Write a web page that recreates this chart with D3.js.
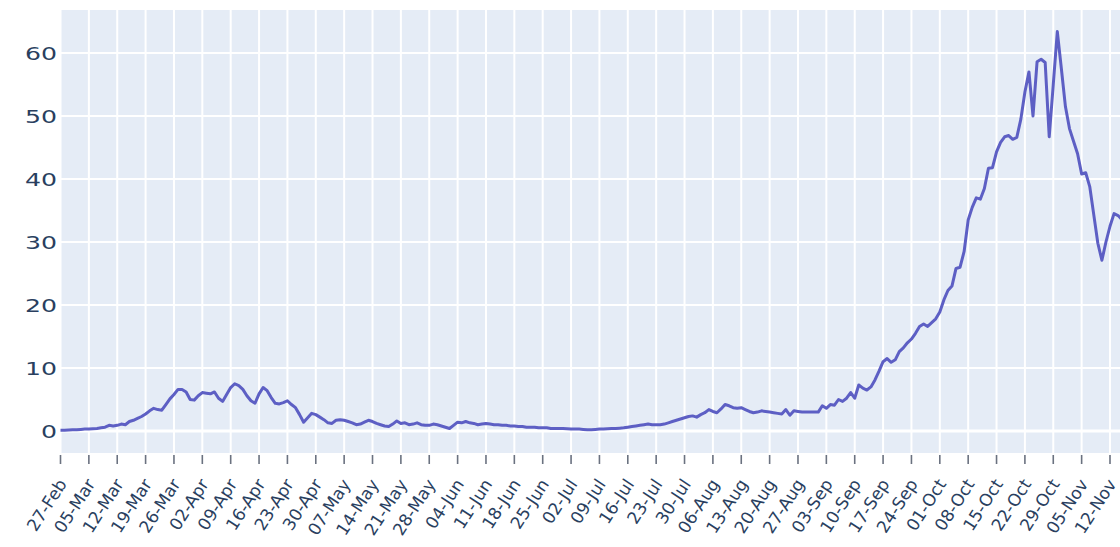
<!DOCTYPE html>
<html>
<head>
<meta charset="utf-8">
<script src="https://cdn.jsdelivr.net/npm/d3@7"></script>
<style>
  html, body { margin: 0; padding: 0; background: #ffffff; }
  svg { display: block; }
  text { font-family: "DejaVu Sans", Verdana, sans-serif; fill: #2a3f5f; }
</style>
</head>
<body>
<svg id="chart" width="1120" height="547"></svg>
<script>
// daily series, first value is 27-Feb-2020
var startDay = "2020-02-27";
var firstTick = "2020-02-27";
var lastTick = "2020-11-12";
var dailyValues = [
  0.1, 0.1, 0.15, 0.2, 0.2, 0.25, 0.3, 0.3, 0.35, 0.4,
  0.5, 0.6, 0.9, 0.8, 0.9, 1.1, 1.0, 1.5, 1.7, 2.0,
  2.3, 2.7, 3.2, 3.6, 3.4, 3.3, 4.2, 5.1, 5.8, 6.6,
  6.6, 6.2, 5.0, 4.9, 5.6, 6.1, 6.0, 5.9, 6.2, 5.2,
  4.7, 5.8, 6.9, 7.5, 7.2, 6.6, 5.6, 4.8, 4.4, 5.9,
  6.9, 6.4, 5.3, 4.4, 4.3, 4.5, 4.8, 4.2, 3.7, 2.6,
  1.4, 2.1, 2.8, 2.6, 2.2, 1.8, 1.3, 1.2, 1.7, 1.8,
  1.7, 1.5, 1.3, 1.0, 1.1, 1.4, 1.7, 1.5, 1.2, 1.0,
  0.8, 0.7, 1.1, 1.6, 1.2, 1.3, 1.0, 1.1, 1.3, 1.0,
  0.9, 0.9, 1.1, 1.0, 0.8, 0.6, 0.4, 0.9, 1.4, 1.3,
  1.5, 1.3, 1.2, 1.0, 1.1, 1.2, 1.1, 1.0, 1.0, 0.9,
  0.9, 0.8, 0.8, 0.7, 0.7, 0.6, 0.6, 0.6, 0.5, 0.5,
  0.5, 0.4, 0.4, 0.4, 0.4, 0.35, 0.3, 0.3, 0.3, 0.25,
  0.2, 0.2, 0.25, 0.3, 0.3, 0.35, 0.4, 0.4, 0.45, 0.5,
  0.6, 0.7, 0.8, 0.9, 1.0, 1.1, 1.0, 1.0, 1.0, 1.1,
  1.3, 1.5, 1.7, 1.9, 2.1, 2.3, 2.4, 2.2, 2.6, 2.9,
  3.4, 3.1, 2.9, 3.5, 4.2, 4.0, 3.7, 3.6, 3.7, 3.4,
  3.1, 2.9, 3.0, 3.2, 3.1, 3.0, 2.9, 2.8, 2.7, 3.4,
  2.5, 3.2, 3.1, 3.0, 3.0, 3.0, 3.0, 3.0, 4.0, 3.6,
  4.2, 4.1, 5.0, 4.7, 5.2, 6.1, 5.2, 7.3, 6.8, 6.5,
  7.0, 8.1, 9.5, 11.0, 11.5, 10.9, 11.3, 12.6, 13.2, 14.0,
  14.6, 15.5, 16.6, 17.0, 16.6, 17.2, 17.8, 18.9, 20.8, 22.3,
  23.0, 25.8, 26.0, 28.5, 33.5, 35.5, 37.0, 36.8, 38.5, 41.7,
  41.8, 44.3, 45.8, 46.7, 46.9, 46.3, 46.6, 49.5, 53.8, 57.0,
  50.0, 58.6, 59.0, 58.5, 46.7, 55.0, 63.4, 57.5, 51.5, 48.0,
  46.0, 44.0, 40.8, 41.0, 38.8, 34.3, 29.8, 27.1, 30.0, 32.5,
  34.5, 34.2, 33.5
];
var yTicks = [0, 10, 20, 30, 40, 50, 60];
var tickFormat = "%d-%b";

var svg = d3.select("#chart");
var plotLeft = 60, plotTop = 10, plotRight = 1120, plotBottom = 453;
var stretch = 1.4; // y labels look wider than tall in the picture

var parse = d3.utcParse("%Y-%m-%d");
var start = parse(startDay);
var data = dailyValues.map(function (v, i) {
  return { date: d3.utcDay.offset(start, i), value: v };
});

var x = d3.scaleUtc()
  .domain([parse(firstTick), parse(lastTick)])
  .range([60.5, 1110]);
var y = d3.scaleLinear()
  .domain([0, 60])
  .range([431, 53]);

// background
svg.append("rect")
  .attr("x", plotLeft)
  .attr("y", plotTop)
  .attr("width", plotRight - plotLeft)
  .attr("height", plotBottom - plotTop)
  .attr("fill", "#e5ecf6");

svg.append("clipPath").attr("id", "plotClip")
  .append("rect")
  .attr("x", plotLeft)
  .attr("y", plotTop)
  .attr("width", plotRight - plotLeft)
  .attr("height", plotBottom - plotTop);

// weekly ticks, every thursday from 27-Feb to 12-Nov
var weekTicks = x.ticks(d3.utcThursday.every(1));

// vertical grid
svg.append("g")
  .attr("clip-path", "url(#plotClip)")
  .selectAll("line")
  .data(weekTicks)
  .enter()
  .append("line")
  .attr("x1", function (d) { return x(d); })
  .attr("x2", function (d) { return x(d); })
  .attr("y1", plotTop)
  .attr("y2", plotBottom)
  .attr("stroke", "#ffffff")
  .attr("stroke-width", 2);

// horizontal grid
svg.append("g")
  .selectAll("line")
  .data(yTicks)
  .enter()
  .append("line")
  .attr("x1", plotLeft)
  .attr("x2", plotRight)
  .attr("y1", function (d) { return y(d); })
  .attr("y2", function (d) { return y(d); })
  .attr("stroke", "#ffffff")
  .attr("stroke-width", function (d) { return d == 0 ? 3 : 2; });

// y labels
svg.append("g")
  .selectAll("text")
  .data(yTicks)
  .enter()
  .append("text")
  .attr("transform", function (d) {
    return "translate(57," + (y(d) + 6.5) + ") scale(" + stretch + ",1)";
  })
  .attr("text-anchor", "end")
  .attr("font-size", 18)
  .text(function (d) { return d; });

// x ticks + labels
var xAxis = svg.append("g");
xAxis.selectAll("line")
  .data(weekTicks)
  .enter()
  .append("line")
  .attr("x1", function (d) { return x(d); })
  .attr("x2", function (d) { return x(d); })
  .attr("y1", 455)
  .attr("y2", 464)
  .attr("stroke", "#6b7280")
  .attr("stroke-width", 1.6);

var fmt = d3.utcFormat(tickFormat);
xAxis.selectAll("text")
  .data(weekTicks)
  .enter()
  .append("text")
  .attr("transform", function (d) {
    return "translate(" + (x(d) + 7) + ",484) rotate(-57)";
  })
  .attr("text-anchor", "end")
  .attr("font-size", 17)
  .text(function (d) { return fmt(d); });

// the line
var line = d3.line()
  .x(function (d) { return x(d.date); })
  .y(function (d) { return y(d.value); });

svg.append("path")
  .datum(data)
  .attr("clip-path", "url(#plotClip)")
  .attr("d", line)
  .attr("fill", "none")
  .attr("stroke", "#5d5fc4")
  .attr("stroke-width", 3)
  .attr("stroke-linejoin", "round");
</script>
</body>
</html>
